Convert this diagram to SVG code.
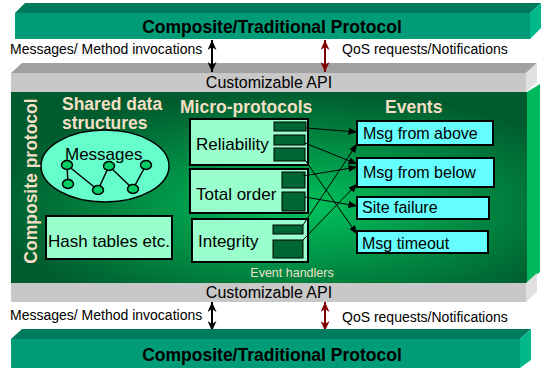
<svg xmlns="http://www.w3.org/2000/svg" width="544" height="368" viewBox="0 0 544 368">
<defs>
<radialGradient id="pg" cx="0.56" cy="0.6" r="0.6">
<stop offset="0" stop-color="#00c35c"/>
<stop offset="1" stop-color="#005c2e"/>
</radialGradient>
<marker id="ah" markerWidth="9" markerHeight="7" refX="8.5" refY="3.5" orient="auto" markerUnits="userSpaceOnUse">
<path d="M0,0 L9,3.5 L0,7 Z" fill="#000"/>
</marker>
<marker id="abk" markerWidth="11" markerHeight="9" refX="10" refY="4.5" orient="auto-start-reverse" markerUnits="userSpaceOnUse">
<path d="M0,0 L10,4.5 L0,9 L3,4.5 Z" fill="#000"/>
</marker>
<marker id="ard" markerWidth="11" markerHeight="9" refX="10" refY="4.5" orient="auto-start-reverse" markerUnits="userSpaceOnUse">
<path d="M0,0 L10,4.5 L0,9 L3,4.5 Z" fill="#800000"/>
</marker>
</defs>
<style>
text{font-family:"Liberation Sans",Arial,sans-serif;}
.title{font-size:17.5px;font-weight:bold;fill:#000;}
.lbl{font-size:14px;fill:#000;}
.api{font-size:16px;fill:#000;}
.hdr{font-size:17.5px;font-weight:bold;fill:#f5dfc4;}
.box{fill:#99ffcc;stroke:#000;stroke-width:2;}
.ev{fill:#66ffff;stroke:#000;stroke-width:2;}
.hd{fill:#006633;stroke:#000;stroke-width:1;}
.bt{font-size:17px;fill:#000;}
.et{font-size:16px;fill:#000;}
.con{stroke:#000;stroke-width:1;fill:none;marker-end:url(#ah);}
.nd{fill:#00cc66;stroke:#000;stroke-width:1.5;}
.ed{stroke:#000;stroke-width:1.5;}
</style>

<g id="top-protocol">
<polygon points="15,13 25,3 541,3 530,13" fill="#007a5c"/>
<rect x="15" y="13" width="515" height="26" fill="#009c78"/>
<polygon points="530,13 541,3 541,28 530,39" fill="#00b88c"/>
<text class="title" x="272" y="33" text-anchor="middle">Composite/Traditional Protocol</text>
</g>

<g id="top-labels">
<text class="lbl" x="10" y="54">Messages/ Method invocations</text>
<text class="lbl" x="342" y="54">QoS requests/Notifications</text>
</g>

<g id="top-api">
<polygon points="11,73 22,63 537,63 526,73" fill="#a0a0a0"/>
<rect x="11" y="73" width="515" height="19" fill="#c8c8c8"/>
<polygon points="526,73 537,63 537,82 526,92" fill="#e0e0e0"/>
<text class="api" x="269" y="88" text-anchor="middle">Customizable API</text>
</g>

<g id="panel">
<rect x="11" y="92" width="516" height="191" fill="url(#pg)"/>
<polygon points="527,92 540,84 540,272 527,283" fill="#00b85c"/>
<text class="hdr" transform="translate(37,181) rotate(-90)" text-anchor="middle" font-size="17">Composite protocol</text>
<text class="hdr" x="62" y="110">Shared data</text>
<text class="hdr" x="62" y="129">structures</text>
<text class="hdr" x="180" y="113">Micro-protocols</text>
<text class="hdr" x="385" y="113">Events</text>
<text x="292" y="277" text-anchor="middle" font-size="12.5" fill="#f0e2c8">Event handlers</text>
</g>

<g id="messages">
<ellipse cx="105" cy="166" rx="64" ry="36" fill="#66ffcc" stroke="#000" stroke-width="1.5"/>
<text class="bt" x="65" y="160" font-size="16.5">Messages</text>
<line class="ed" x1="67" y1="165" x2="68" y2="184"/>
<line class="ed" x1="67" y1="165" x2="98" y2="190"/>
<line class="ed" x1="98" y1="190" x2="109" y2="166"/>
<line class="ed" x1="109" y1="166" x2="133" y2="189"/>
<line class="ed" x1="133" y1="189" x2="146" y2="165"/>
<ellipse class="nd" cx="67" cy="165" rx="5.5" ry="4.5"/>
<ellipse class="nd" cx="68" cy="184" rx="5.5" ry="4.5"/>
<ellipse class="nd" cx="98" cy="190" rx="5.5" ry="4.5"/>
<ellipse class="nd" cx="109" cy="166" rx="5.5" ry="4.5"/>
<ellipse class="nd" cx="133" cy="189" rx="5.5" ry="4.5"/>
<ellipse class="nd" cx="146" cy="165" rx="5.5" ry="4.5"/>
</g>

<g id="hash-tables">
<rect class="box" x="46" y="216" width="126" height="43" stroke-width="1.5"/>
<text class="bt" x="48" y="247" font-size="16.5">Hash tables etc.</text>
</g>

<g id="reliability">
<rect class="box" x="190" y="119" width="118" height="46"/>
<text class="bt" x="196" y="150">Reliability</text>
<rect class="hd" x="274" y="122" width="32" height="9"/>
<rect class="hd" x="274" y="135" width="31" height="10"/>
<rect class="hd" x="274" y="148" width="31" height="13"/>
</g>

<g id="total-order">
<rect class="box" x="190" y="169" width="118" height="44"/>
<text class="bt" x="196" y="200">Total order</text>
<rect class="hd" x="282" y="172" width="23" height="16"/>
<rect class="hd" x="282" y="192" width="23" height="19"/>
</g>

<g id="integrity">
<rect class="box" x="192" y="219" width="116" height="43"/>
<text class="bt" x="198" y="247">Integrity</text>
<rect class="hd" x="273" y="225" width="30" height="9"/>
<rect class="hd" x="273" y="240" width="30" height="18"/>
</g>

<g id="ev-above">
<rect class="ev" x="357" y="121" width="136" height="24"/>
<text class="et" x="363" y="139">Msg from above</text>
</g>
<g id="ev-below">
<rect class="ev" x="357" y="158" width="137" height="29"/>
<text class="et" x="363" y="178">Msg from below</text>
</g>
<g id="ev-site">
<rect class="ev" x="357" y="197" width="132" height="22"/>
<text class="et" x="362" y="213">Site failure</text>
</g>
<g id="ev-timeout">
<rect class="ev" x="357" y="231" width="131" height="22"/>
<text class="et" x="362" y="249">Msg timeout</text>
</g>

<g id="connectors">
<line class="con" x1="306" y1="128" x2="357" y2="132"/>
<line class="con" x1="305" y1="143" x2="357" y2="164"/>
<line class="con" x1="305" y1="160" x2="357" y2="234"/>
<line class="con" x1="303" y1="176" x2="357" y2="167"/>
<line class="con" x1="305" y1="197" x2="357" y2="206"/>
<line class="con" x1="303" y1="225" x2="357" y2="144"/>
<line class="con" x1="303" y1="240" x2="357" y2="184"/>
<line x1="212" y1="40" x2="212" y2="72" stroke="#000" stroke-width="2" marker-start="url(#abk)" marker-end="url(#abk)"/>
<line x1="325" y1="40" x2="325" y2="72" stroke="#800000" stroke-width="2" marker-start="url(#ard)" marker-end="url(#ard)"/>
<line x1="212" y1="302" x2="212" y2="331" stroke="#000" stroke-width="2" marker-start="url(#abk)" marker-end="url(#abk)"/>
<line x1="325" y1="302" x2="325" y2="331" stroke="#800000" stroke-width="2" marker-start="url(#ard)" marker-end="url(#ard)"/>
</g>

<g id="bottom-api">
<polygon points="526,283 537,273 537,292 526,302" fill="#e0e0e0"/>
<rect x="11" y="283" width="515" height="19" fill="#c8c8c8"/>
<text class="api" x="269" y="298" text-anchor="middle">Customizable API</text>
</g>

<g id="bottom-labels">
<text class="lbl" x="10" y="320">Messages/ Method invocations</text>
<text class="lbl" x="342" y="322">QoS requests/Notifications</text>
</g>

<g id="bottom-protocol">
<polygon points="11,339 22,329 531,329 520,339" fill="#007a5c"/>
<rect x="11" y="339" width="509" height="29" fill="#009c78"/>
<polygon points="520,339 531,329 531,360 520,368" fill="#00b88c"/>
<text class="title" x="272" y="361" text-anchor="middle">Composite/Traditional Protocol</text>
</g>
</svg>
